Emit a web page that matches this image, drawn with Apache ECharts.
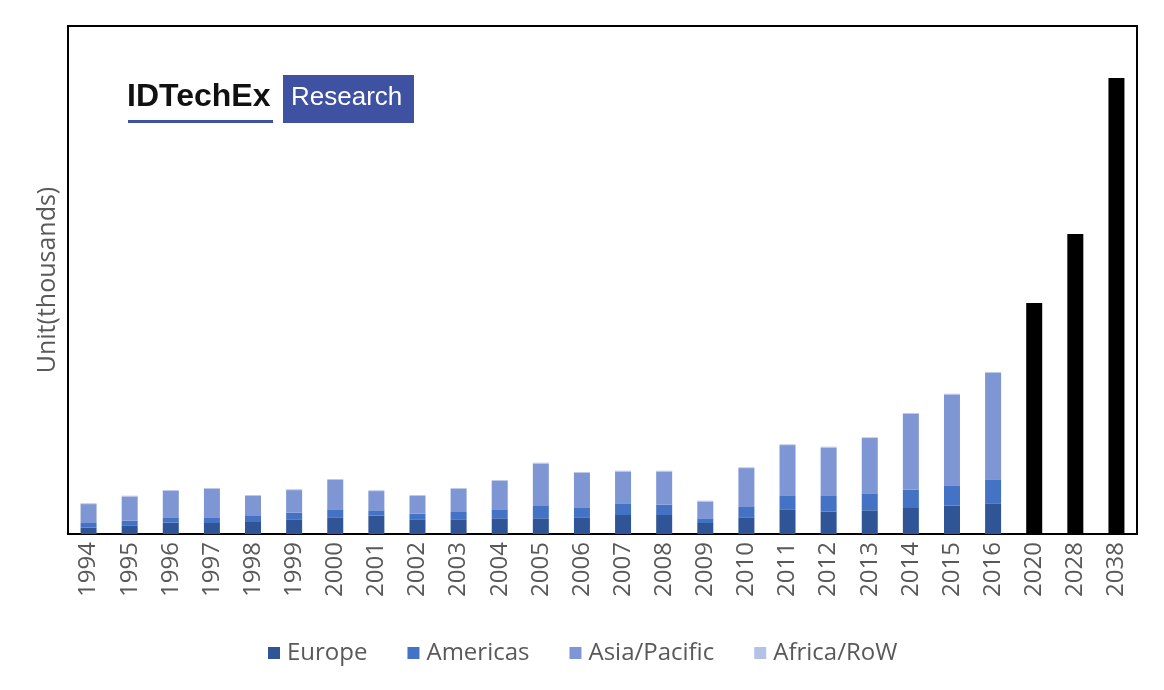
<!DOCTYPE html>
<html>
<head>
<meta charset="utf-8">
<script src="https://cdn.jsdelivr.net/npm/echarts@6/dist/echarts.min.js"></script>
<style>html,body{margin:0;padding:0;background:#fff}#c{width:1164px;height:690px}</style>
</head>
<body>
<div id="c"></div>
<script>
// Values in arbitrary units (no y-axis scale in the reference)
const years = ['1994','1995','1996','1997','1998','1999','2000','2001','2002','2003','2004','2005','2006','2007','2008','2009','2010','2011','2012','2013','2014','2015','2016','2020','2028','2038'];
const europe   = [6.3, 8.7, 11.3, 11, 12, 14.7, 16.7, 18.3, 14.7, 14.7, 15.7, 15.7, 16.7, 19, 19, 11, 16.7, 24.7, 22.3, 23.7, 26, 28.3, 30.7, '-', '-', '-'];
const americas = [4.7, 4.6, 5.4, 5.7, 6, 6.6, 8, 5.4, 5.6, 7.3, 9, 12.3, 10, 11.7, 10.3, 4.7, 10.3, 14, 16.4, 17, 18.3, 20.4, 24, '-', '-', '-'];
const asiaPac  = [18.9, 24.2, 26.5, 28.5, 20.2, 22.6, 29.5, 19.2, 17.9, 23.2, 28.5, 42.5, 34.5, 31.8, 33.2, 16.8, 38.9, 50.2, 47.8, 55.2, 75.9, 90.8, 106.5, '-', '-', '-'];
const africa   = [0.8, 0.8, 0.8, 0.8, 0.8, 0.8, 0.8, 0.8, 0.8, 0.8, 0.8, 0.8, 0.8, 0.8, 0.8, 0.8, 0.8, 0.8, 0.8, 0.8, 0.8, 0.8, 0.8, '-', '-', '-'];
const forecast = ['-', '-', '-', '-', '-', '-', '-', '-', '-', '-', '-', '-', '-', '-', '-', '-', '-', '-', '-', '-', '-', '-', '-', 231, 300, 456];
const legendNames = ['Europe', 'Americas', 'Asia/Pacific', 'Africa/RoW'];

const chart = echarts.init(document.getElementById('c'));
const font = '"Open Sans", "Noto Sans", sans-serif';
const grey = '#595959';
const bw = 16;
chart.setOption({
  animation: false,
  backgroundColor: '#fff',
  grid: { left: 68, right: 27, top: 26, bottom: 156, show: true, borderColor: '#000', borderWidth: 2, backgroundColor: 'transparent' },
  legend: {
    data: legendNames, top: 636, left: 263, icon: 'rect', itemWidth: 12, itemHeight: 12, itemGap: 40,
    textStyle: { fontFamily: font, fontSize: 24, color: grey, padding: [0, 0, 0, 2] }
  },
  xAxis: {
    type: 'category', data: years,
    axisLine: { lineStyle: { color: '#000', width: 2 } },
    axisTick: { show: false },
    axisLabel: { rotate: 90, fontFamily: font, fontSize: 24, color: grey, margin: 8 }
  },
  yAxis: {
    type: 'value', min: 0, max: 508,
    name: 'Unit(thousands)', nameLocation: 'middle', nameGap: 8, nameRotate: 90,
    nameTextStyle: { fontFamily: font, fontSize: 25, color: grey },
    axisLine: { show: false }, axisTick: { show: false }, axisLabel: { show: false }, splitLine: { show: false }
  },
  series: [
    { name: 'Europe', type: 'bar', stack: 't', barWidth: bw, data: europe, itemStyle: { color: '#2F5597' } },
    { name: 'Americas', type: 'bar', stack: 't', barWidth: bw, data: americas, itemStyle: { color: '#4472C4' } },
    { name: 'Asia/Pacific', type: 'bar', stack: 't', barWidth: bw, data: asiaPac, itemStyle: { color: '#7F96D4' } },
    { name: 'Africa/RoW', type: 'bar', stack: 't', barWidth: bw, data: africa, itemStyle: { color: '#B4C2E6' } },
    { name: 'Forecast', type: 'bar', stack: 't', barWidth: bw, data: forecast, itemStyle: { color: '#000' } }
  ],
  graphic: [
    { type: 'text', left: 127, top: 81, style: { text: 'IDTechEx', fontFamily: '"Liberation Sans", Arial, sans-serif', fontWeight: 'bold', fontSize: 32, fill: '#111', letterSpacing: -1.2 } },
    { type: 'rect', shape: { x: 128, y: 120, width: 145, height: 3 }, style: { fill: '#3F51A1' } },
    { type: 'rect', shape: { x: 283, y: 75, width: 131, height: 48 }, style: { fill: '#3F51A1' } },
    { type: 'text', left: 291, top: 85, style: { text: 'Research', fontFamily: '"Liberation Sans", Arial, sans-serif', fontSize: 26, fill: '#fff', letterSpacing: -1 } }
  ]
});
</script>
</body>
</html>
